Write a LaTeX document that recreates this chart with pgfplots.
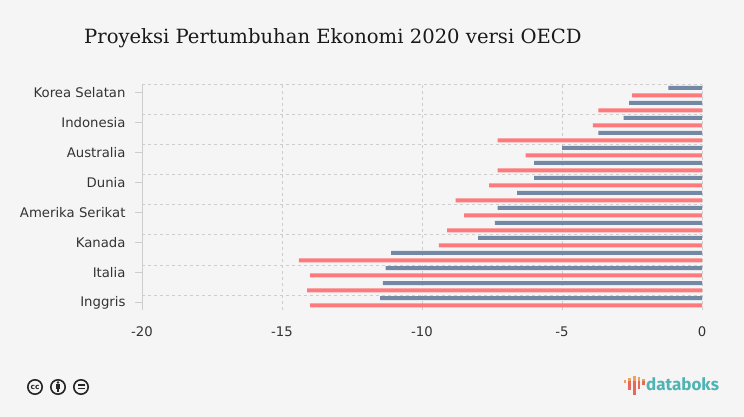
\documentclass[border=0pt]{standalone}
\usepackage{pgfplots}
\pgfplotsset{compat=1.18}
\usepackage{fontspec}
\setmainfont{DejaVu Sans}
\newfontfamily\titlefont{DejaVu Serif}
\newfontfamily\logofont{Fira Sans}
\definecolor{bg}{HTML}{F5F5F5}
\definecolor{bluebar}{HTML}{6C83A0}
\definecolor{redbar}{HTML}{FF7376}
\definecolor{gridc}{HTML}{CDCDCD}
\definecolor{teal}{HTML}{4FB3B3}
\definecolor{lab}{HTML}{333333}
\begin{document}
\begin{tikzpicture}[x=1pt,y=1pt]
\fill[bg] (0,0) rectangle (744,417);
\begin{axis}[
  at={(142pt,107pt)},anchor=south west,
  scale only axis,width=560pt,height=225pt,
  xmin=-20,xmax=0,ymin=0,ymax=15,y dir=reverse,
  xtick={-20,-15,-10,-5,0},
  ytick={0.5,2.5,4.5,6.5,8.5,10.5,12.5,14.5},
  yticklabels={Korea Selatan,Indonesia,Australia,Dunia,Amerika Serikat,Kanada,Italia,Inggris},
  minor ytick={0,2,4,6,8,10,12,14},
  xmajorgrids,yminorgrids,
  grid style={gridc,line width=1pt,dash pattern=on 3pt off 3pt},
  minor grid style={gridc,line width=1pt,dash pattern=on 3pt off 3pt},
  axis line style={draw=none},
  axis x line*=bottom,axis y line*=left,
  tick style={draw=none},
  major tick length=0pt,minor tick length=0pt,
  tick label style={font=\fontsize{13.25}{15}\selectfont,text=lab},
  xticklabel style={yshift=-13pt},
  yticklabel style={xshift=-13pt},
  /pgf/number format/assume math mode=true,
  clip=false,
  xbar,bar width=4pt,
]
\draw[gridc,line width=1pt] (axis cs:-20,0) -- (axis cs:-20,15);
\addplot[draw=none,fill=bluebar,bar shift=4.5pt,fill opacity=0.95] coordinates {
(-1.2,0.5)(-2.6,1.5)(-2.8,2.5)(-3.7,3.5)(-5.0,4.5)(-6.0,5.5)(-6.0,6.5)(-6.6,7.5)(-7.3,8.5)(-7.4,9.5)(-8.0,10.5)(-11.1,11.5)(-11.3,12.5)(-11.4,13.5)(-11.5,14.5)};
\addplot[draw=none,fill=redbar,bar shift=-2.8pt,fill opacity=0.95] coordinates {
(-2.5,0.5)(-3.7,1.5)(-3.9,2.5)(-7.3,3.5)(-6.3,4.5)(-7.3,5.5)(-7.6,6.5)(-8.8,7.5)(-8.5,8.5)(-9.1,9.5)(-9.4,10.5)(-14.4,11.5)(-14.0,12.5)(-14.1,13.5)(-14.0,14.5)};
\end{axis}
\foreach \yy in {92.5,122.5,152.5,182.5,212.5,242.5,272.5,302.5}
  \draw[gridc,line width=1pt] (135,417-\yy) -- (142,417-\yy);
\node[anchor=base west,inner sep=0pt,font=\titlefont\fontsize{19.6}{24}\selectfont,text=black!90] at (84,417-44) {Proyeksi Pertumbuhan Ekonomi 2020 versi OECD};
% licence icons
\foreach \cx in {35,58,81}
  \draw[black!85,line width=1.6pt,fill=bg] (\cx,417-387) circle (7.2);
\node[font=\bfseries\fontsize{7.5}{8}\selectfont,inner sep=0pt,text=black!85] at (35,417-387) {cc};
\fill[black!85] (58,417-382.5) circle (1.4);
\fill[black!85] (56,417-384.3) rectangle (60,417-389);
\fill[black!85] (57,417-389) rectangle (59,417-392.5);
\fill[black!85] (77.5,417-386) rectangle (84.5,417-384.5);
\fill[black!85] (77.5,417-389.5) rectangle (84.5,417-388);
% databoks logo
\definecolor{logor}{HTML}{E8695A}
\definecolor{logoo}{HTML}{F0A060}
\foreach \xa/\ya/\yb/\c in {625/380/383.5/logoo,629.5/381/390/logor,634.5/381/395/logor,639/381/389/logor,643.5/381/385/logor}
  \draw[\c,line width=2.3pt] (\xa,417-\ya) -- (\xa,417-\yb);
\foreach \xa/\ya/\yb in {629.5/378/381,634.5/376/381,639/377/381,643.5/379/381}
  \draw[logoo,line width=2.3pt] (\xa,417-\ya) -- (\xa,417-\yb);
\node[anchor=base west,inner sep=0pt,font=\logofont\bfseries\fontsize{17}{19}\selectfont,text=teal] at (646,417-391) {databoks};
\end{tikzpicture}
\end{document}
